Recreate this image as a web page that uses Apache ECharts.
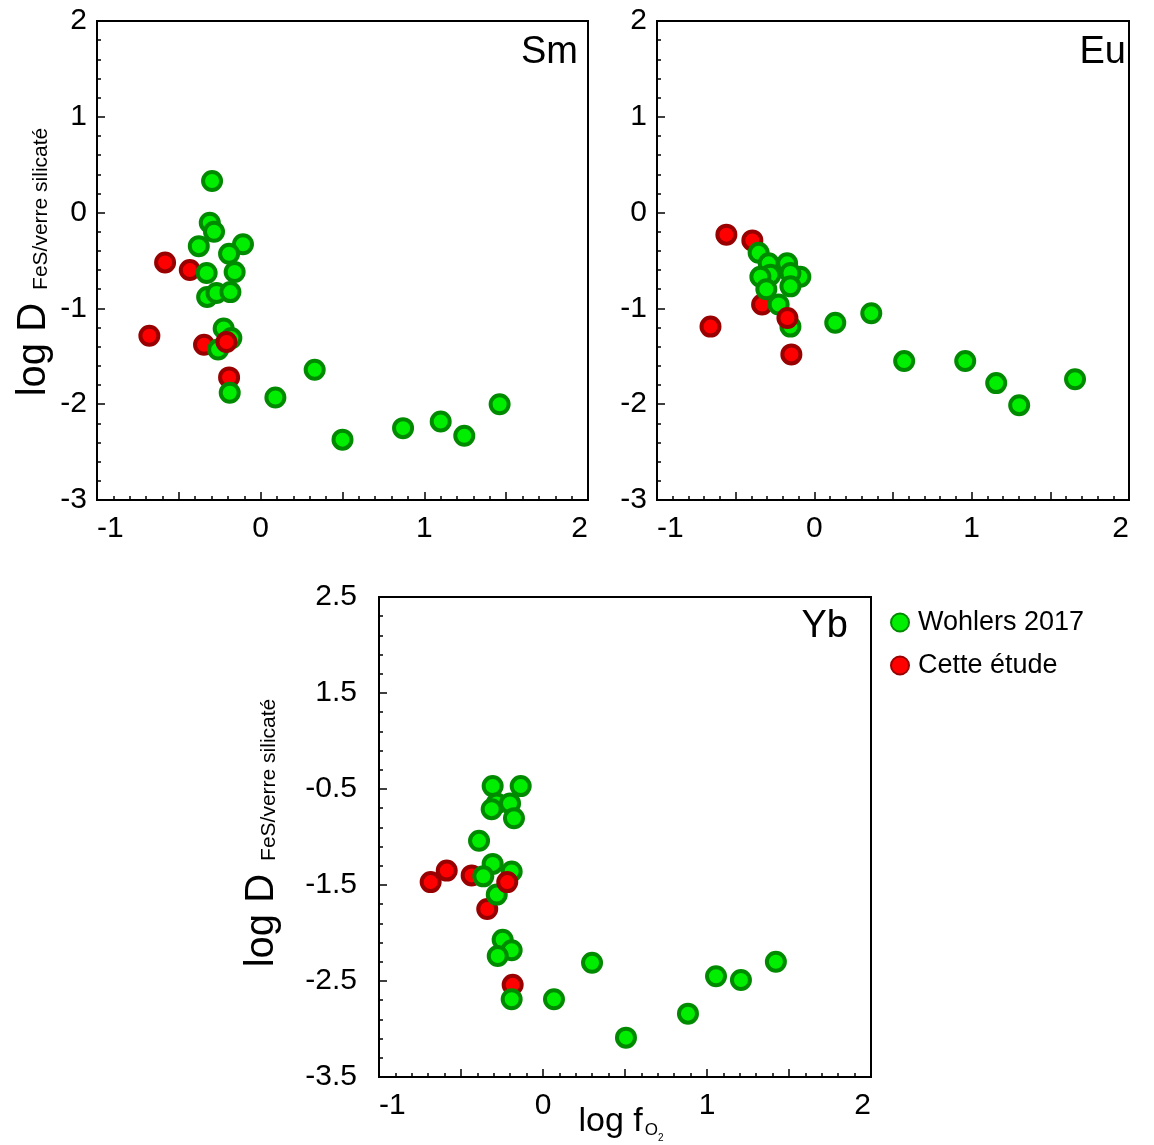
<!DOCTYPE html>
<html><head><meta charset="utf-8">
<script src="https://cdn.jsdelivr.net/npm/echarts@6/dist/echarts.min.js"></script>
<style>html,body{margin:0;padding:0;background:#fff}#c{width:1154px;height:1145px}</style>
</head><body><div id="c"></div>
<script>
// ---- data (log fO2, log D) ----
const smWohlers = [[-0.297,0.33],[-0.311,-0.105],[-0.285,-0.2],[-0.378,-0.35],[-0.108,-0.33],[-0.193,-0.43],[-0.33,-0.63],[-0.159,-0.62],[-0.327,-0.88],[-0.27,-0.84],[-0.185,-0.83],[-0.226,-1.21],[-0.179,-1.31],[-0.26,-1.43],[-0.189,-1.88],[0.09,-1.93],[0.33,-1.64],[0.5,-2.37],[0.87,-2.25],[1.1,-2.18],[1.244,-2.33],[1.46,-2.0]];
const smCetteBack = [[-0.433,-0.6],[-0.346,-1.38],[-0.193,-1.72]];
const smCetteFront = [[-0.584,-0.52],[-0.68,-1.285],[-0.209,-1.35]];

const euWohlers = [[-0.354,-0.42],[-0.29,-0.53],[-0.173,-0.53],[-0.279,-0.65],[-0.343,-0.67],[-0.089,-0.67],[-0.152,-0.63],[-0.305,-0.8],[-0.152,-0.77],[-0.227,-0.96],[-0.152,-1.19],[0.133,-1.15],[0.362,-1.05],[0.571,-1.55],[0.959,-1.55],[1.156,-1.78],[1.302,-2.01],[1.657,-1.74]];
const euCetteBack = [[-0.394,-0.29],[-0.332,-0.96]];
const euCetteFront = [[-0.559,-0.23],[-0.66,-1.19],[-0.171,-1.1],[-0.146,-1.48]];

const ybWohlers = [[-0.307,-0.47],[-0.136,-0.47],[-0.282,-0.65],[-0.313,-0.71],[-0.201,-0.65],[-0.177,-0.805],[-0.39,-1.04],[-0.307,-1.28],[-0.364,-1.41],[-0.191,-1.36],[-0.282,-1.6],[-0.246,-2.07],[-0.191,-2.18],[-0.276,-2.24],[-0.191,-2.69],[0.067,-2.69],[0.299,-2.31],[0.506,-3.09],[0.884,-2.84],[1.055,-2.45],[1.207,-2.49],[1.42,-2.30]];
const ybCetteBack = [[-0.435,-1.40],[-0.34,-1.75],[-0.185,-2.54]];
const ybCetteFront = [[-0.685,-1.47],[-0.587,-1.35],[-0.218,-1.47]];

const ybTickLabels = ['-3.5','-2.5','-1.5','-0.5','1.5','2.5'];
const panelNames = ['Sm','Eu','Yb'];
const seriesNames = ['Wohlers 2017','Cette étude'];

// ---- styles ----
const FONT = "'Liberation Sans', Arial, sans-serif";
const green = {color:'#00ee00', borderColor:'#008a00', borderWidth:4, opacity:1};
const red = {color:'#ff0000', borderColor:'#990000', borderWidth:4, opacity:1};

function xAxis(grid){
  return {type:'value', gridIndex:grid, min:-1, max:2, interval:0.5,
    axisLine:{show:true, onZero:false, lineStyle:{color:'#000', width:2}},
    axisTick:{show:true, inside:true, length:8, lineStyle:{color:'#000', width:1.5}},
    minorTick:{show:true, splitNumber:5, length:4, lineStyle:{color:'#000', width:1.5}},
    splitLine:{show:false},
    axisLabel:{color:'#000', fontFamily:FONT, fontSize:30, margin:14,
      alignMinLabel:'left', alignMaxLabel:'right',
      formatter:v=>Math.abs(v-Math.round(v))<1e-6 ? String(Math.round(v)) : ''}
  };
}
function yAxis(grid, min, max, margin, fmt){
  return {type:'value', gridIndex:grid, min:min, max:max, interval:1,
    axisLine:{show:true, onZero:false, lineStyle:{color:'#000', width:2}},
    axisTick:{show:true, inside:true, length:8, lineStyle:{color:'#000', width:1.5}},
    minorTick:{show:true, splitNumber:5, length:4, lineStyle:{color:'#000', width:1.5}},
    splitLine:{show:false},
    axisLabel:{color:'#000', fontFamily:FONT, fontSize:30, margin:margin, formatter:fmt}
  };
}
function sc(name, grid, data, style, z){
  return {type:'scatter', name:name, xAxisIndex:grid, yAxisIndex:grid, data:data,
    symbol:'circle', symbolSize:18, itemStyle:style, z:z, emphasis:{disabled:true}};
}
function ylabel(x,y){
  return {type:'text', x:x, y:y, rotation:Math.PI/2,
    style:{text:'{a|log D}{b|FeS/verre silicaté}', align:'center', verticalAlign:'middle',
      rich:{a:{fontFamily:FONT, fontSize:40, fill:'#000', verticalAlign:'bottom'},
            b:{fontFamily:FONT, fontSize:21, fill:'#000', verticalAlign:'bottom', padding:[0,0,2,13]}}}};
}
function ptitle(t,x,y){
  return {type:'text', x:x, y:y, style:{text:t, fontFamily:FONT, fontSize:38, fill:'#000', align:'right', verticalAlign:'middle'}};
}

const gridBox = {show:true, borderColor:'#000', borderWidth:2, containLabel:false};
const option = {
  animation:false,
  backgroundColor:'#fff',
  grid:[
    Object.assign({left:97, top:21, width:491, height:479}, gridBox),
    Object.assign({left:657, top:21, width:472, height:479}, gridBox),
    Object.assign({left:379, top:597, width:492, height:480}, gridBox)
  ],
  xAxis:[xAxis(0), xAxis(1), xAxis(2)],
  yAxis:[
    yAxis(0,-3,2,10),
    yAxis(1,-3,2,10),
    yAxis(2,-3.5,1.5,22, v=>ybTickLabels[Math.round(v+3.5)])
  ],
  legend:{show:true, orient:'vertical', left:885, top:604, itemGap:16, itemWidth:18, itemHeight:18,
    icon:'circle', data:seriesNames,
    textStyle:{fontFamily:FONT, fontSize:27, color:'#000', padding:[0,0,0,4]}},
  series:[
    sc(seriesNames[1],0,smCetteBack,red,2), sc(seriesNames[0],0,smWohlers,green,3), sc(seriesNames[1],0,smCetteFront,red,4),
    sc(seriesNames[1],1,euCetteBack,red,2), sc(seriesNames[0],1,euWohlers,green,3), sc(seriesNames[1],1,euCetteFront,red,4),
    sc(seriesNames[1],2,ybCetteBack,red,2), sc(seriesNames[0],2,ybWohlers,green,3), sc(seriesNames[1],2,ybCetteFront,red,4)
  ],
  graphic:[
    ptitle(panelNames[0],578,53), ptitle(panelNames[1],1126,53), ptitle(panelNames[2],848,627),
    ylabel(34,262), ylabel(262,833),
    {type:'text', x:621, y:1122, style:{text:'{a|log f}{b|O}{c|2}', align:'center', verticalAlign:'middle',
      rich:{a:{fontFamily:FONT, fontSize:34, fill:'#000', verticalAlign:'bottom'},
            b:{fontFamily:FONT, fontSize:17, fill:'#000', verticalAlign:'bottom', padding:[0,0,0,2]},
            c:{fontFamily:FONT, fontSize:10, fill:'#000', verticalAlign:'bottom', padding:[0,0,-4,0]}}}}
  ]
};
const chart = echarts.init(document.getElementById('c'), null, {renderer:'canvas'});
chart.setOption(option);
</script></body></html>
